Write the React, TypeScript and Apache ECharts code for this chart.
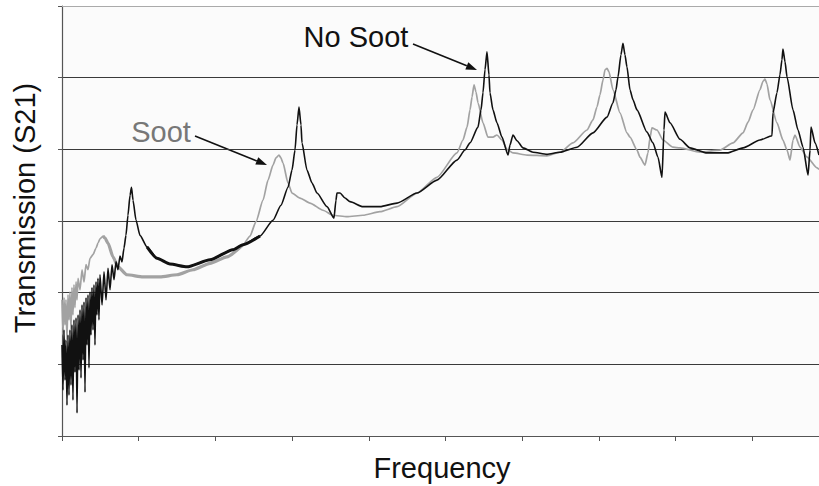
import React, { useEffect, useRef } from "react";
import * as echarts from "echarts";

// Frequency axis: arbitrary units, one tick per unit; the visible span ends just short of 10.
const xTicks = [0, 1, 2, 3, 4, 5, 6, 7, 8, 9];
const xMax = 9.87;
const yTickCount = 6;

// Transmission (S21) without soot: [frequency, transmission]
const noSoot: [number, number][] = [
  [0, 1.27], [0.013, 0.64], [0.026, 1.48], [0.039, 0.78], [0.052, 1.34], [0.065, 0.43],
  [0.078, 1.41], [0.091, 0.57], [0.104, 1.48], [0.117, 0.71], [0.13, 1.55], [0.143, 0.5],
  [0.156, 1.62], [0.169, 0.89], [0.183, 1.65], [0.196, 0.32], [0.209, 1.69], [0.222, 0.92],
  [0.235, 1.76], [0.248, 0.81], [0.261, 1.83], [0.274, 1.06], [0.287, 1.87], [0.3, 0.61],
  [0.313, 1.93], [0.326, 1.27], [0.339, 1.97], [0.352, 0.95], [0.365, 2.01], [0.378, 1.41],
  [0.391, 2.07], [0.404, 1.48], [0.417, 2.11], [0.43, 1.27], [0.443, 2.15], [0.456, 1.69],
  [0.469, 2.2], [0.482, 1.62], [0.495, 2.25], [0.522, 1.83], [0.548, 2.29], [0.574, 1.9],
  [0.6, 2.34], [0.626, 2.04], [0.652, 2.39], [0.678, 2.18], [0.704, 2.43], [0.73, 2.32],
  [0.756, 2.51], [0.782, 2.43], [0.808, 2.62],
  [0.834, 2.8], [0.86, 3.08], [0.887, 3.36], [0.906, 3.47], [0.926, 3.29], [0.965, 3.01],
  [1.017, 2.8], [1.108, 2.64], [1.239, 2.48], [1.408, 2.4], [1.63, 2.36], [1.93, 2.46],
  [2.229, 2.6], [2.36, 2.67], [2.582, 2.79], [2.751, 3.01], [2.855, 3.22], [2.947, 3.47],
  [2.999, 3.71], [3.038, 3.99], [3.064, 4.34], [3.09, 4.59], [3.116, 4.34], [3.129, 4.09],
  [3.194, 3.71], [3.26, 3.53], [3.325, 3.39], [3.455, 3.2], [3.546, 3.04], [3.572, 3.29],
  [3.585, 3.39], [3.625, 3.39], [3.69, 3.32], [3.755, 3.27], [3.924, 3.2], [4.146, 3.2],
  [4.368, 3.25], [4.628, 3.39], [4.889, 3.57], [5.15, 3.85], [5.254, 3.99], [5.32, 4.09],
  [5.424, 4.31], [5.463, 4.55], [5.489, 4.79], [5.515, 5.11], [5.541, 5.36], [5.567, 5.04],
  [5.58, 4.79], [5.619, 4.55], [5.671, 4.37], [5.737, 4.17], [5.815, 3.92], [5.841, 4.06],
  [5.88, 4.2], [5.932, 4.12], [6.011, 4.02], [6.141, 3.96], [6.323, 3.93], [6.493, 3.96],
  [6.715, 4.03], [6.923, 4.23], [7.106, 4.45], [7.184, 4.65], [7.223, 4.83], [7.249, 5.01],
  [7.288, 5.32], [7.314, 5.48], [7.34, 5.32], [7.366, 5.15], [7.406, 4.83], [7.445, 4.69],
  [7.497, 4.55], [7.627, 4.24], [7.705, 4.09], [7.771, 3.89], [7.823, 3.61], [7.849, 4.27],
  [7.862, 4.52], [7.927, 4.37], [8.058, 4.14], [8.188, 4.02], [8.41, 3.95], [8.671, 3.95],
  [8.88, 4.02], [9.1, 4.13], [9.257, 4.19], [9.27, 4.51], [9.322, 4.79], [9.361, 5.04],
  [9.387, 5.25], [9.4, 5.4], [9.427, 5.22], [9.453, 5.01], [9.531, 4.55], [9.596, 4.27],
  [9.662, 4.03], [9.727, 3.64], [9.753, 3.99], [9.766, 4.31], [9.818, 4.09], [9.87, 3.92],
];

// Transmission (S21) with soot: [frequency, transmission]
const soot: [number, number][] = [
  [0, 1.9], [0.013, 1.41], [0.026, 1.93], [0.039, 1.55], [0.052, 1.9], [0.065, 1.34],
  [0.078, 1.97], [0.091, 1.62], [0.104, 2.01], [0.117, 1.48], [0.13, 2.07], [0.143, 1.69],
  [0.156, 2.11], [0.169, 1.79], [0.183, 2.15], [0.196, 1.9], [0.209, 2.2], [0.235, 2.04],
  [0.261, 2.32], [0.287, 2.15], [0.313, 2.39], [0.339, 2.32], [0.365, 2.48], [0.404, 2.53],
  [0.443, 2.62], [0.469, 2.69], [0.495, 2.75], [0.535, 2.79], [0.561, 2.76], [0.6, 2.69],
  [0.665, 2.5], [0.73, 2.36], [0.847, 2.25], [1.056, 2.22], [1.278, 2.22], [1.499, 2.25],
  [1.708, 2.32], [1.93, 2.41], [2.151, 2.5], [2.36, 2.67], [2.451, 2.79], [2.529, 2.99],
  [2.621, 3.29], [2.686, 3.57], [2.751, 3.78], [2.79, 3.88], [2.829, 3.92], [2.855, 3.88],
  [2.881, 3.81], [2.947, 3.53], [2.999, 3.39], [3.103, 3.32], [3.233, 3.25], [3.403, 3.15],
  [3.533, 3.08], [3.716, 3.06], [3.924, 3.08], [4.146, 3.13], [4.368, 3.2], [4.628, 3.39],
  [4.889, 3.61], [5.15, 3.95], [5.228, 4.13], [5.281, 4.31], [5.32, 4.55], [5.346, 4.73],
  [5.372, 4.9], [5.398, 4.8], [5.424, 4.65], [5.489, 4.37], [5.554, 4.17], [5.619, 4.17],
  [5.671, 4.2], [5.737, 4.13], [5.802, 4.0], [5.88, 3.95], [6.063, 3.92], [6.323, 3.91],
  [6.493, 3.96], [6.662, 4.09], [6.845, 4.27], [6.923, 4.41], [6.975, 4.59], [7.014, 4.76],
  [7.054, 4.97], [7.08, 5.11], [7.106, 5.13], [7.132, 5.08], [7.184, 4.83], [7.275, 4.51],
  [7.366, 4.23], [7.406, 4.17], [7.497, 3.99], [7.536, 3.89], [7.601, 3.78], [7.64, 3.95],
  [7.666, 4.16], [7.692, 4.3], [7.758, 4.27], [7.836, 4.13], [7.966, 4.03], [8.058, 4.02],
  [8.318, 3.96], [8.579, 3.99], [8.749, 4.09], [8.88, 4.23], [8.945, 4.38], [9.01, 4.55],
  [9.1, 4.83], [9.14, 4.95], [9.166, 4.98], [9.192, 4.91], [9.231, 4.69], [9.322, 4.37],
  [9.4, 4.13], [9.453, 3.99], [9.492, 3.85], [9.531, 4.13], [9.557, 4.2], [9.622, 4.03],
  [9.714, 3.89], [9.844, 3.74], [9.87, 3.72],
];

// Frequency ranges where each trace is a broad, noisy band
const sootBand: [number, number] = [0.5, 2.45];
const noSootBand: [number, number] = [1.05, 2.6];

const xTitle = "Frequency";
const yTitle = "Transmission (S21)";
const noSootLabel = "No Soot";
const sootLabel = "Soot";

const BLACK = "#111111";
const GREY = "#a2a2a2";
const FONT = "'Liberation Sans', Arial, Helvetica, sans-serif";

function within(data: [number, number][], range: [number, number]) {
  return data.filter((d) => d[0] >= range[0] && d[0] <= range[1]);
}

// Straight callout arrow with a filled head
function arrow(x1: number, y1: number, x2: number, y2: number, color: string) {
  const ang = Math.atan2(y2 - y1, x2 - x1);
  const len = 11;
  const half = 4;
  const bx = x2 - len * Math.cos(ang);
  const by = y2 - len * Math.sin(ang);
  const px = -Math.sin(ang) * half;
  const py = Math.cos(ang) * half;
  return {
    type: "group",
    children: [
      {
        type: "line",
        shape: { x1, y1, x2: bx, y2: by },
        style: { stroke: color, lineWidth: 1.6 },
      },
      {
        type: "polygon",
        shape: {
          points: [
            [x2, y2],
            [bx + px, by + py],
            [bx - px, by - py],
          ],
        },
        style: { fill: color },
      },
    ],
  };
}

export default function App() {
  const ref = useRef<HTMLDivElement>(null);

  useEffect(() => {
    document.body.style.margin = "0";
    if (!ref.current) return;
    const chart = echarts.init(ref.current, undefined, { renderer: "svg" });

    const lineSeries = (
      name: string,
      data: [number, number][],
      color: string,
      width: number,
      z: number
    ) => ({
      name,
      type: "line",
      data,
      symbol: "none",
      showSymbol: false,
      smooth: 0.2,
      smoothMonotone: "x",
      z,
      lineStyle: { color, width, join: "round" },
      emphasis: { disabled: true },
      silent: true,
    });

    chart.setOption({
      animation: false,
      backgroundColor: "#ffffff",
      grid: {
        left: 62,
        right: 0,
        top: 6,
        bottom: 50,
        show: true,
        backgroundColor: "#fbfbfb",
        borderWidth: 0,
      },
      xAxis: [
        {
          type: "value",
          min: 0,
          max: xMax,
          interval: 1,
          axisLine: { show: true, lineStyle: { color: "#555", width: 1.2 } },
          axisTick: {
            show: true,
            inside: false,
            length: 5,
            customValues: xTicks,
            lineStyle: { color: "#555" },
          },
          axisLabel: { show: false },
          splitLine: { show: false },
        },
        {
          type: "value",
          position: "top",
          min: 0,
          max: xMax,
          axisLine: { show: true, onZero: false, lineStyle: { color: "#aaa", width: 1.2 } },
          axisTick: { show: false },
          axisLabel: { show: false },
          splitLine: { show: false },
        },
      ],
      yAxis: {
        type: "value",
        min: 0,
        max: yTickCount,
        interval: 1,
        axisLine: { show: true, lineStyle: { color: "#555", width: 1.2 } },
        axisTick: { show: true, inside: false, length: 4, lineStyle: { color: "#555" } },
        axisLabel: { show: false },
        splitLine: {
          show: true,
          showMaxLine: false,
          lineStyle: { color: "#3a3a3a", width: 1.2 },
        },
      },
      series: [
        lineSeries("Soot", soot, GREY, 1.7, 2),
        lineSeries("Soot band", within(soot, sootBand), GREY, 3.2, 2),
        lineSeries("No Soot", noSoot, BLACK, 1.6, 3),
        lineSeries("No Soot band", within(noSoot, noSootBand), BLACK, 3, 3),
      ],
      graphic: [
        {
          type: "text",
          x: 25,
          y: 208,
          rotation: Math.PI / 2,
          style: {
            text: yTitle,
            fontSize: 29,
            fontFamily: FONT,
            fill: "#111",
            align: "center",
            verticalAlign: "middle",
          },
        },
        {
          type: "text",
          x: 442,
          y: 468,
          style: {
            text: xTitle,
            fontSize: 29,
            fontFamily: FONT,
            fill: "#111",
            align: "center",
            verticalAlign: "middle",
          },
        },
        {
          type: "text",
          x: 356,
          y: 37,
          z: 10,
          style: {
            text: noSootLabel,
            fontSize: 29,
            fontFamily: FONT,
            fill: "#111",
            align: "center",
            verticalAlign: "middle",
          },
        },
        {
          type: "text",
          x: 161,
          y: 132,
          z: 10,
          style: {
            text: sootLabel,
            fontSize: 29,
            fontFamily: FONT,
            fill: "#777",
            align: "center",
            verticalAlign: "middle",
          },
        },
        { ...arrow(413, 44, 477, 70, "#111"), z: 10 },
        { ...arrow(195, 136, 267, 165, "#111"), z: 10 },
      ],
    });

    return () => chart.dispose();
  }, []);

  return <div ref={ref} style={{ width: 819, height: 486 }} />;
}
